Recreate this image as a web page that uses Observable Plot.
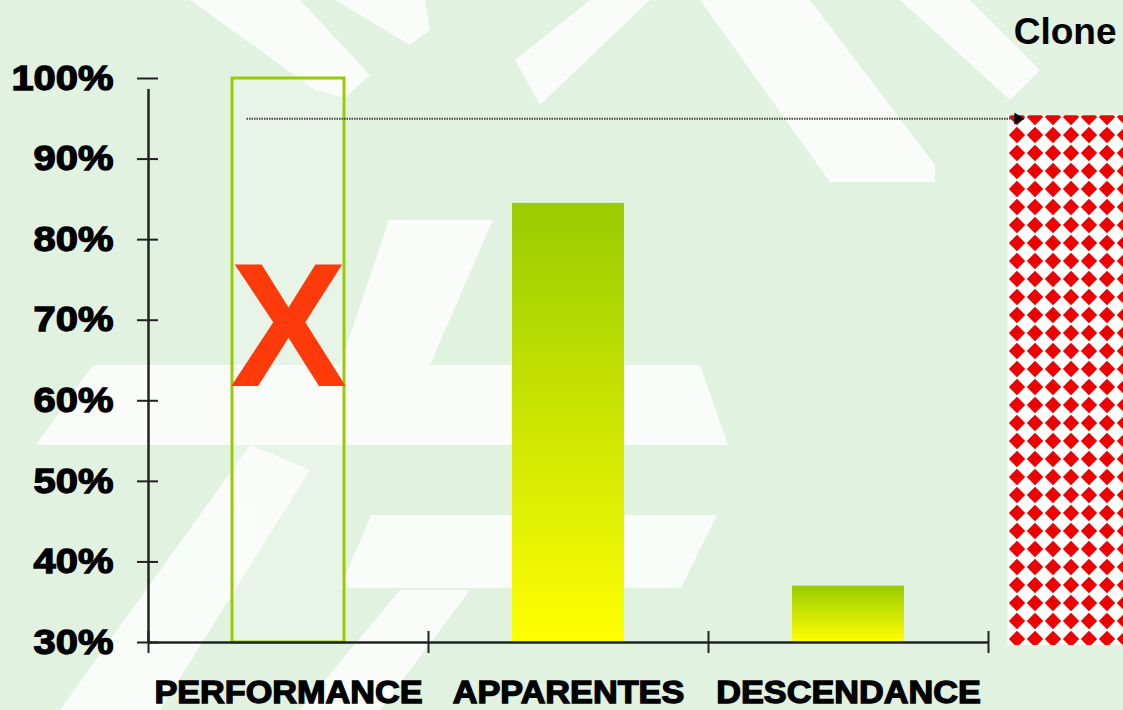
<!DOCTYPE html>
<html><head><meta charset="utf-8">
<script src="https://cdn.jsdelivr.net/npm/d3@7"></script>
<script src="https://cdn.jsdelivr.net/npm/@observablehq/plot@0.6"></script>
<style>
html,body{margin:0;padding:0;background:#e1f2e1;overflow:hidden;}
#wrap{position:relative;width:1123px;height:710px;overflow:hidden;}
#bg{position:absolute;left:0;top:0;}
#chart{position:absolute;left:0;top:0;}
</style></head><body>
<div id="wrap">
<svg id="bg" width="1123" height="710" xmlns="http://www.w3.org/2000/svg">
  <defs>
    <linearGradient id="barGrad" x1="0" y1="0" x2="0" y2="1">
      <stop offset="0" stop-color="#99cc00"/>
      <stop offset="1" stop-color="#ffff00"/>
    </linearGradient>
    <pattern id="diamonds" patternUnits="userSpaceOnUse" width="18" height="18">
      <rect width="18" height="18" fill="#ffffff"/>
      <path d="M9,0.8 L17.2,9 L9,17.2 L0.8,9Z" fill="#ee0000"/>
    </pattern>
  </defs>
  <g fill="#ffffff" opacity="0.8">
    <polygon points="190,0 300,0 370,75 345,98 315,90"/>
    <polygon points="335,0 425,0 430,30 410,45"/>
    <polygon points="515,60 540,105 650,0 590,0"/>
    <polygon points="700,0 810,0 935,165 935,182 830,182"/>
    <polygon points="900,0 970,0 1040,70 1010,100"/>
    <polygon points="389,220 493,220 430,365 340,365"/>
    <polygon points="93,365 700,365 728,445 36,445"/>
    <polygon points="371,515 717,515 681,588 340,588"/>
    <polygon points="60,710 160,710 310,470 250,445"/>
    <polygon points="300,710 380,710 470,590 400,590"/>
  </g>
</svg>
<div id="chart"></div>
</div>
<script>
const categories = ["PERFORMANCE", "APPARENTES", "DESCENDANCE"];
const values = [100, 84.5, 37];
const barStyles = ["outline", "gradient", "gradient"];
const yTicks = [30, 40, 50, 60, 70, 80, 90, 100];
const cloneLevel = 95;
const cloneLabel = "Clone";
const crossLabel = "X";
const crossLevel = 69.2;

const rows = categories.map((c, i) => ({cat: c, i, value: values[i], style: barStyles[i]}));
const bandEdges = d3.range(categories.length + 1);
const fmt = d => d + "%";

const chart = Plot.plot({
  width: 1123,
  height: 710,
  marginLeft: 148,
  marginRight: 135,
  marginTop: 78,
  marginBottom: 68,
  style: {fontFamily: "'Liberation Sans', Arial, sans-serif", background: "transparent", color: "#111", overflow: "visible"},
  x: {domain: [0, categories.length], axis: null},
  y: {domain: [30, 100], axis: null},
  marks: [
    Plot.rect([{lo: 30, hi: cloneLevel}], {x1: categories.length + 0.07, x2: categories.length + 0.6, y1: "lo", y2: "hi", fill: "url(#diamonds)", insetTop: -3, insetBottom: -3}),
    Plot.rectY(rows.filter(d => d.style === "gradient"), {x1: d => d.i + 0.3, x2: d => d.i + 0.7, y1: 30, y2: "value", fill: "url(#barGrad)"}),
    Plot.rectY(rows.filter(d => d.style === "outline"), {x1: d => d.i + 0.3, x2: d => d.i + 0.7, y1: 30, y2: "value", fill: "#ffffff", fillOpacity: 0.2, stroke: "#99cc00", strokeWidth: 3}),
    Plot.text([crossLabel], {x: 0.5, y: crossLevel, text: d => d, fontSize: 176, fontWeight: "bold", fill: "#ff3a0a", lineAnchor: "middle", dy: 3}),
    Plot.link([{v: cloneLevel}], {x1: 0.35, x2: categories.length + 0.1, y1: "v", y2: "v", stroke: "#444", strokeWidth: 2, strokeDasharray: "1.5,1"}),
    Plot.dot([{v: cloneLevel}], {x: categories.length + 0.105, y: "v", symbol: "triangle", rotate: 90, r: 4.5, fill: "#000", stroke: "none"}),
    Plot.ruleX([0], {y1: 30, y2: 100, stroke: "#222", strokeWidth: 2.5, insetBottom: -11}),
    Plot.axisY({ticks: yTicks, tickSize: 21, dx: 10, tickPadding: 24, tickFormat: fmt, fontSize: 35, fontWeight: "bold", stroke: "#222", strokeWidth: 2}),
    Plot.ruleY([30], {x1: 0, x2: categories.length, stroke: "#222", strokeWidth: 2.5}),
    Plot.axisX({ticks: bandEdges, tickSize: 22, dy: -11, tickFormat: () => "", stroke: "#222", strokeWidth: 2}),
    Plot.text(rows, {x: d => d.i + 0.5, y: 30, dy: 50, text: "cat", fontSize: 32, fontWeight: "bold", fill: "#000", lineAnchor: "middle"}),
    Plot.text([cloneLabel], {x: categories.length + 0.09, y: 100, dy: -46, text: d => d, textAnchor: "start", fontSize: 37, fontWeight: "bold", fill: "#000", lineAnchor: "middle"})
  ]
});
document.getElementById("chart").appendChild(chart);

// heavier, wider lettering (Arial Black look)
const yLabelSet = new Set(yTicks.map(fmt));
const catSet = new Set(categories);
chart.querySelectorAll("text").forEach(t => {
  const s = t.textContent.trim();
  let factor = 0;
  if (yLabelSet.has(s)) factor = 1.14;
  else if (catSet.has(s)) factor = 1.07;
  if (!factor) return;
  const w = t.getComputedTextLength();
  t.setAttribute("textLength", (w * factor).toFixed(1));
  t.setAttribute("lengthAdjust", "spacingAndGlyphs");
  t.setAttribute("stroke", "#000");
  t.setAttribute("stroke-width", "1.3");
  t.setAttribute("fill", "#000");
  t.setAttribute("paint-order", "stroke");
});
const pr = chart.querySelector('rect[fill="url(#diamonds)"]');
if (pr) {
  const p = document.getElementById("diamonds");
  p.setAttribute("x", pr.getAttribute("x"));
  p.setAttribute("y", pr.getAttribute("y"));
}
</script>
</body></html>
